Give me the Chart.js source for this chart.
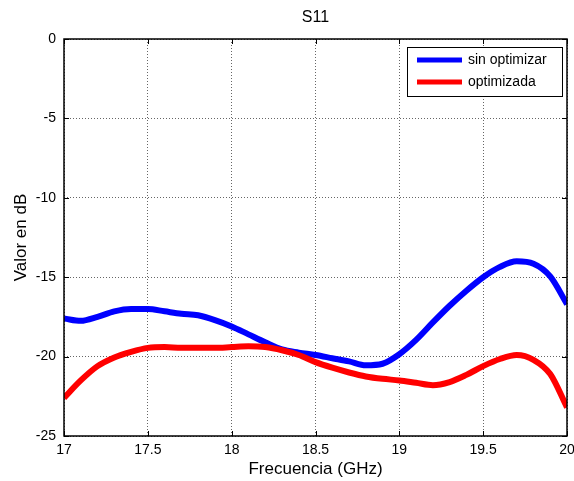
<!DOCTYPE html>
<html>
<head>
<meta charset="utf-8">
<title>S11</title>
<script src="https://cdn.jsdelivr.net/npm/chart.js@4.4.0/dist/chart.umd.min.js"></script>
<style>
    html, body { margin: 0; padding: 0; background: #fff; }
    #wrap { width: 574px; height: 481px; }
</style>
</head>
<body>
<div id="wrap"><canvas id="s11Chart" width="574" height="481"></canvas></div>
<script>
// Frequency sweep (GHz)
const freqGHz = [
    17.0, 17.1, 17.2, 17.3, 17.4, 17.5, 17.6, 17.7, 17.8, 17.9,
    18.0, 18.1, 18.2, 18.3, 18.4, 18.5, 18.6, 18.7, 18.8, 18.9,
    19.0, 19.1, 19.2, 19.3, 19.4, 19.5, 19.6, 19.7, 19.8, 19.9, 20.0,
];

// S11 in dB, original design
const s11SinOptimizar = [
    -17.6, -17.75, -17.5, -17.15, -17.0, -17.0, -17.15, -17.3, -17.4, -17.7,
    -18.1, -18.6, -19.1, -19.55, -19.75, -19.9, -20.1, -20.3, -20.55, -20.45,
    -19.85, -18.95, -17.85, -16.8, -15.85, -15.0, -14.35, -14.0, -14.15, -14.95, -16.7,
];

// S11 in dB, optimized design
const s11Optimizada = [
    -22.6, -21.5, -20.6, -20.05, -19.7, -19.45, -19.4, -19.45, -19.45, -19.45,
    -19.4, -19.35, -19.4, -19.6, -19.9, -20.35, -20.7, -21.0, -21.25, -21.4,
    -21.5, -21.65, -21.8, -21.6, -21.15, -20.6, -20.15, -19.9, -20.2, -21.1, -23.2,
];

const seriesLabels = ['sin optimizar', 'optimizada'];
const xTicks = [17, 17.5, 18, 18.5, 19, 19.5, 20];
const yTicks = [-25, -20, -15, -10, -5, 0];

const FONT = 'Liberation Sans, Arial, sans-serif';

/**
 * Title, boxed axes with inward ticks and the legend box
 */
const matlabFrame = {
    id: 'matlabFrame',
    afterDraw(chart) {
        const { ctx, chartArea: a, scales } = chart;
        const tick = 5;
        ctx.save();

        // title
        ctx.fillStyle = '#000';
        ctx.font = '16px ' + FONT;
        ctx.textAlign = 'center';
        ctx.textBaseline = 'middle';
        ctx.fillText('S11', (a.left + a.right) / 2, 18);

        // axes box
        ctx.strokeStyle = '#000';
        ctx.lineWidth = 1.5;
        ctx.strokeRect(a.left, a.top, a.right - a.left, a.bottom - a.top);

        // inward ticks
        ctx.lineWidth = 1;
        ctx.beginPath();
        xTicks.forEach(v => {
            const x = Math.round(scales.x.getPixelForValue(v)) + 0.5;
            ctx.moveTo(x, a.bottom); ctx.lineTo(x, a.bottom - tick);
            ctx.moveTo(x, a.top); ctx.lineTo(x, a.top + tick);
        });
        yTicks.forEach(v => {
            const y = Math.round(scales.y.getPixelForValue(v)) + 0.5;
            ctx.moveTo(a.left, y); ctx.lineTo(a.left + tick, y);
            ctx.moveTo(a.right, y); ctx.lineTo(a.right - tick, y);
        });
        ctx.stroke();

        // legend
        const lx = 407, ly = 47, lw = 155, lh = 49;
        ctx.fillStyle = '#fff';
        ctx.fillRect(lx, ly, lw, lh);
        ctx.strokeStyle = '#000';
        ctx.lineWidth = 1;
        ctx.strokeRect(lx + 0.5, ly + 0.5, lw, lh);
        ctx.font = '14px ' + FONT;
        ctx.textAlign = 'left';
        ctx.textBaseline = 'middle';
        const rows = [chart.data.datasets[0], chart.data.datasets[1]];
        rows.forEach((ds, i) => {
            const y = ly + 13 + i * 22;
            ctx.strokeStyle = ds.borderColor;
            ctx.lineWidth = 5;
            ctx.beginPath();
            ctx.moveTo(lx + 10, y);
            ctx.lineTo(lx + 55, y);
            ctx.stroke();
            ctx.fillStyle = '#000';
            ctx.fillText(ds.label, lx + 61, y);
        });

        ctx.restore();
    },
};

const ctx = document.getElementById('s11Chart').getContext('2d');

new Chart(ctx, {
    type: 'line',
    data: {
        datasets: [
            {
                label: seriesLabels[0],
                data: freqGHz.map((f, i) => ({ x: f, y: s11SinOptimizar[i] })),
                borderColor: '#0000ff',
                borderWidth: 6,
                pointRadius: 0,
                cubicInterpolationMode: 'monotone',
                order: 1,
            },
            {
                label: seriesLabels[1],
                data: freqGHz.map((f, i) => ({ x: f, y: s11Optimizada[i] })),
                borderColor: '#ff0000',
                borderWidth: 6,
                pointRadius: 0,
                cubicInterpolationMode: 'monotone',
                order: 0,
            },
        ],
    },
    options: {
        responsive: false,
        animation: false,
        layout: { padding: { top: 39, right: 7, left: 0, bottom: 0 } },
        plugins: {
            legend: { display: false },
            title: { display: false },
            tooltip: { enabled: false },
        },
        scales: {
            x: {
                type: 'linear',
                min: 17,
                max: 20,
                afterBuildTicks: scale => { scale.ticks = xTicks.map(v => ({ value: v })); },
                afterFit: scale => {
                    scale.height = 45;
                    scale.paddingLeft = 0;
                    scale.paddingRight = 0;
                },
                ticks: {
                    color: '#000',
                    font: { family: FONT, size: 14 },
                    padding: 6,
                    maxRotation: 0,
                    autoSkip: false,
                    callback: v => String(v),
                },
                grid: { color: '#666', lineWidth: 1, drawTicks: false, tickLength: 0 },
                border: { display: false, dash: [1, 2] },
                title: {
                    display: true,
                    text: 'Frecuencia (GHz)',
                    color: '#000',
                    font: { family: FONT, size: 17 },
                    padding: { top: 0, bottom: 1 },
                },
            },
            y: {
                min: -25,
                max: 0,
                afterBuildTicks: scale => { scale.ticks = yTicks.map(v => ({ value: v })); },
                afterFit: scale => { scale.width = 64; },
                ticks: {
                    color: '#000',
                    font: { family: FONT, size: 14 },
                    padding: 8,
                    autoSkip: false,
                    callback: v => String(v),
                },
                grid: { color: '#666', lineWidth: 1, drawTicks: false, tickLength: 0 },
                border: { display: false, dash: [1, 2] },
                title: {
                    display: true,
                    text: 'Valor en dB',
                    color: '#000',
                    font: { family: FONT, size: 17 },
                    padding: { top: 11, bottom: 0 },
                },
            },
        },
    },
    plugins: [matlabFrame],
});
</script>
</body>
</html>
